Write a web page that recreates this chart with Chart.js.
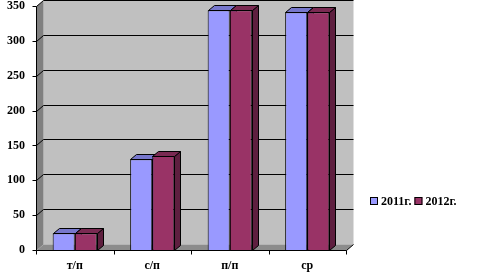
<!DOCTYPE html>
<html>
<head>
<meta charset="utf-8">
<script src="https://cdn.jsdelivr.net/npm/chart.js@4/dist/chart.umd.min.js"></script>
<style>
  html, body { margin: 0; padding: 0; background: #fff; }
  #chart { display: block; }
</style>
</head>
<body>
<canvas id="chart" width="488" height="279"></canvas>
<script>
'use strict';

// ── Data ──────────────────────────────────────────────────────────────────
const categories  = ['т/п', 'с/п', 'п/п', 'ср'];
const seriesNames = ['2011г.', '2012г.'];
const values2011  = [24, 130, 344, 341];
const values2012  = [24, 135, 344, 341];
const Y_MAX  = 350;
const Y_STEP = 50;

// ── Look ──────────────────────────────────────────────────────────────────
const FONT = { family: '"Liberation Serif", "Times New Roman", serif', size: 12, weight: 'bold' };
const WALL_DX = 7, WALL_DY = -6;   // depth of walls / floor
const BAR_DX  = 6, BAR_DY  = -5;   // depth of bars
const FRONT = ['#9999FF', '#993366'];
const SIDE  = ['#5c5c9c', '#5e1f3f'];
const TOP   = ['#7777cc', '#7a2a52'];

function poly(ctx, pts, fill, stroke) {
  ctx.beginPath();
  ctx.moveTo(pts[0][0], pts[0][1]);
  for (let i = 1; i < pts.length; i++) ctx.lineTo(pts[i][0], pts[i][1]);
  ctx.closePath();
  if (fill) { ctx.fillStyle = fill; ctx.fill(); }
  if (stroke) { ctx.strokeStyle = stroke; ctx.lineWidth = 1; ctx.stroke(); }
}

function line(ctx, x1, y1, x2, y2) {
  ctx.beginPath();
  ctx.moveTo(x1, y1);
  ctx.lineTo(x2, y2);
  ctx.stroke();
}

// ── 3D walls, grid and bar depth ──────────────────────────────────────────
const box3d = {
  id: 'box3d',
  beforeDatasetsDraw(chart) {
    const ctx = chart.ctx;
    const { left: L, right: R, top: T, bottom: B } = chart.chartArea;
    const ys = chart.scales.y;
    ctx.save();
    ctx.translate(0.5, 0.5);

    // back wall, side wall, floor
    poly(ctx, [[L + WALL_DX, T + WALL_DY], [R + WALL_DX, T + WALL_DY], [R + WALL_DX, B + WALL_DY], [L + WALL_DX, B + WALL_DY]], '#C0C0C0');
    poly(ctx, [[L, T], [L + WALL_DX, T + WALL_DY], [L + WALL_DX, B + WALL_DY], [L, B]], '#808080');
    poly(ctx, [[L, B], [L + WALL_DX, B + WALL_DY], [R + WALL_DX, B + WALL_DY], [R, B]], '#8c8c8c');

    // grid lines across side and back wall
    ctx.strokeStyle = '#000';
    ctx.lineWidth = 1;
    for (let v = Y_STEP; v <= Y_MAX; v += Y_STEP) {
      const yy = Math.round(ys.getPixelForValue(v));
      ctx.beginPath();
      ctx.moveTo(L, yy);
      ctx.lineTo(L + WALL_DX, yy + WALL_DY);
      ctx.lineTo(R + WALL_DX, yy + WALL_DY);
      ctx.stroke();
    }
    // y tick marks
    for (let v = 0; v <= Y_MAX; v += Y_STEP) {
      const yy = Math.round(ys.getPixelForValue(v));
      line(ctx, L - 4, yy, L, yy);
    }
    // axis lines
    line(ctx, L, T, L, B);
    line(ctx, L, B, R, B);
    line(ctx, R, B, R + WALL_DX, B + WALL_DY);
    // category tick marks
    const n = categories.length;
    for (let i = 0; i <= n; i++) {
      const xx = Math.round(L + (R - L) * i / n);
      line(ctx, xx, B, xx, B + 4);
    }

    // bar sides and tops
    chart.data.datasets.forEach((ds, di) => {
      const meta = chart.getDatasetMeta(di);
      meta.data.forEach(bar => {
        const p = bar.getProps(['x', 'y', 'base', 'width'], true);
        const l = Math.round(p.x - p.width / 2), r = Math.round(p.x + p.width / 2);
        const t = Math.round(p.y), b = Math.round(p.base);
        poly(ctx, [[r, t], [r + BAR_DX, t + BAR_DY], [r + BAR_DX, b + BAR_DY], [r, b]], SIDE[di], '#000');
        poly(ctx, [[l, t], [l + BAR_DX, t + BAR_DY], [r + BAR_DX, t + BAR_DY], [r, t]], TOP[di], '#000');
      });
    });
    ctx.restore();
  },

  // legend drawn by hand to sit where the original has it
  afterDraw(chart) {
    const ctx = chart.ctx;
    ctx.save();
    ctx.font = `${FONT.weight} ${FONT.size}px ${FONT.family}`;
    ctx.textBaseline = 'middle';
    let x = 370;
    const y = 201;
    chart.data.datasets.forEach((ds, di) => {
      ctx.fillStyle = FRONT[di];
      ctx.fillRect(x, y - 4, 8, 8);
      ctx.strokeStyle = '#000';
      ctx.strokeRect(x + 0.5, y - 3.5, 7, 7);
      ctx.fillStyle = '#000';
      ctx.fillText(ds.label, x + 11, y + 1);
      x += 11 + ctx.measureText(ds.label).width + 3;
    });
    ctx.restore();
  }
};

// ── Chart ─────────────────────────────────────────────────────────────────
new Chart(document.getElementById('chart'), {
  type: 'bar',
  data: {
    labels: categories,
    datasets: [
      { label: seriesNames[0], data: values2011, backgroundColor: FRONT[0], borderColor: '#000', borderWidth: 1 },
      { label: seriesNames[1], data: values2012, backgroundColor: FRONT[1], borderColor: '#000', borderWidth: 1 }
    ]
  },
  options: {
    responsive: false,
    animation: false,
    devicePixelRatio: 1,
    layout: { padding: { top: 6, right: 142, left: 0, bottom: 0 } },
    datasets: { bar: { categoryPercentage: 0.57, barPercentage: 1 } },
    plugins: { legend: { display: false }, tooltip: { enabled: false } },
    scales: {
      x: {
        grid: { display: false, drawTicks: false },
        border: { display: false },
        ticks: { color: '#000', font: FONT, padding: 9, maxRotation: 0 },
        afterFit: s => { s.height = 29; s.paddingLeft = 0; s.paddingRight = 0; }
      },
      y: {
        min: 0, max: Y_MAX,
        grid: { display: false, drawTicks: false },
        border: { display: false },
        ticks: { stepSize: Y_STEP, color: '#000', font: FONT, padding: 11 },
        afterFit: s => { s.width = 36; s.paddingTop = 0; s.paddingBottom = 0; }
      }
    }
  },
  plugins: [box3d]
});
</script>
</body>
</html>
